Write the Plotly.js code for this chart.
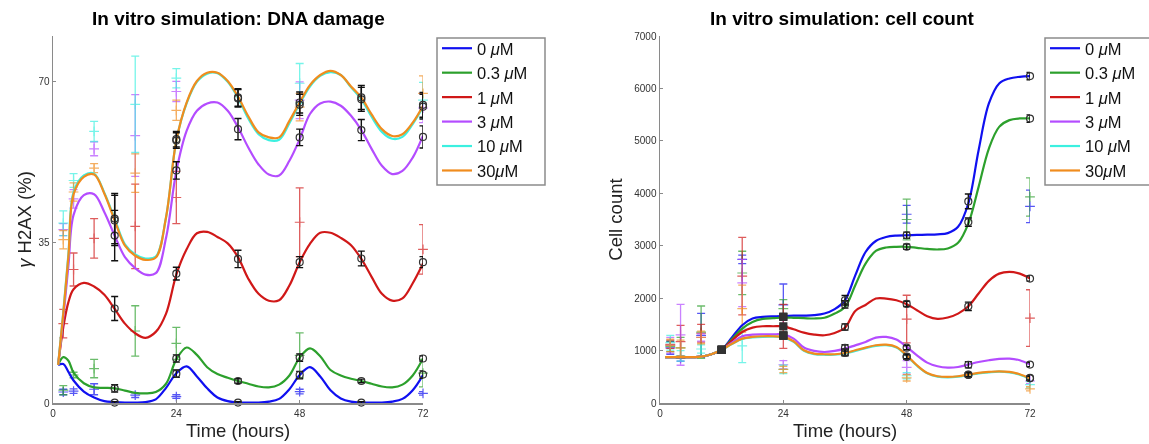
<!DOCTYPE html>
<html>
<head>
<meta charset="utf-8">
<script src="https://cdn.plot.ly/plotly-3.0.1.min.js"></script>
<style>
html,body{margin:0;padding:0;background:#fff;}
#chart{width:1149px;height:444px;}
</style>
</head>
<body>
<div id="chart"></div>
<script>
// ---------- series names ----------
const seriesNames = ['0 <i>μ</i>M', '0.3 <i>μ</i>M', '1 <i>μ</i>M', '3 <i>μ</i>M', '10 <i>μ</i>M', '30<i>μ</i>M'];
const seriesColors = ['#1010f0', '#2ca02c', '#d01818', '#b44cff', '#3cf0e0', '#f08c1e'];

// ---------- left: DNA damage model curves ----------
const tModelL = [1,2,3,4,6,8,10,12,14,16,18,20,22,24,26,28,30,32,34,36,38,40,42,44,46,48,50,52,54,56,58,60,62,64,66,68,70,72];
const dna0  = [8.3,8.5,6.8,4.9,2.5,1.2,0.4,0.2,0.1,0.1,0.2,0.8,3.3,6.5,8.0,5.8,3.2,1.2,0.4,0.1,0.1,0.1,0.3,0.9,3.0,6.1,7.8,5.8,2.8,1.0,0.3,0.1,0.1,0.1,0.3,0.9,2.8,6.1];
const dna03 = [8.3,10.0,9.2,6.6,4.3,3.4,3.3,3.2,2.7,2.2,2.1,2.4,4.2,9.5,12.1,10.5,7.8,6.3,5.5,4.8,4.2,3.6,3.4,4.0,6.0,9.9,11.9,10.2,7.2,6.0,5.3,4.8,4.2,3.6,3.4,4.0,6.0,9.7];
const dna1  = [8.3,16.5,22.0,24.8,26.2,25.4,23.6,20.5,17.3,15.2,14.2,15.5,19.5,28.0,33.5,37.0,37.3,36.2,34.8,31.8,27.1,23.8,22.3,22.4,25.6,30.7,34.7,37.1,37.1,36.0,34.4,31.4,27.5,23.8,22.3,22.8,26.1,30.4];
const dna3  = [8.3,18.5,30.0,41.0,45.3,45.5,41.6,36.5,31.8,29.4,28.0,28.3,36.0,50.5,59.3,63.7,65.3,65.5,63.7,60.1,55.7,52.0,49.8,49.6,52.8,57.5,63.0,65.3,65.7,64.8,62.6,59.5,55.4,51.7,49.9,50.6,53.5,58.3];
const dna10 = [8.3,19.8,32.5,46.0,49.6,50.0,45.8,40.2,34.6,32.4,31.5,31.9,40.5,57.2,65.3,70.0,71.8,71.9,70.0,66.5,62.0,58.6,57.3,57.4,61.0,65.2,69.0,71.3,72.1,71.5,68.8,66.2,62.4,59.1,57.6,58.0,60.8,64.5];
const dna30 = [8.3,19.5,32.0,45.5,49.3,49.8,45.6,39.8,34.3,32.1,31.2,31.7,40.5,57.2,65.5,70.2,72.0,72.0,70.2,66.8,62.5,59.0,57.9,57.9,61.5,65.5,69.3,71.5,72.4,71.5,69.0,66.6,62.9,59.7,58.2,58.6,61.1,64.8];

// ---------- left: coloured experimental data ----------
const tExpL = [2,4,8,16,24,48,72];
const dnaExp0  = [2.4,2.6,3.0,1.7,1.4,2.5,2.1];
const dnaErr0  = [0.6,0.5,1.2,0.5,0.4,0.5,0.4];
const dnaExp03 = [2.8,6.1,7.5,15.7,13.0,10.4,6.5];
const dnaErr03 = [1.0,0.6,2.0,5.5,3.5,4.9,3.0];
const dnaExp1  = [17.3,29.1,35.9,38.5,44.8,39.4,33.5];
const dnaErr1  = [3.1,3.6,4.3,9.2,5.7,7.5,5.4];
const dnaExp3  = [37.8,44.5,55.4,58.3,67.9,66.0,64.3];
const dnaErr3  = [1.3,2.0,1.5,8.9,2.2,4.0,3.2];
const dnaExp10 = [39.2,48.5,59.2,65.1,70.8,69.7,66.0];
const dnaErr10 = [2.7,1.5,2.2,10.5,2.1,4.3,3.9];
const dnaExp30 = [35.6,46.0,51.2,50.1,63.8,64.5,67.5];
const dnaErr30 = [2.0,2.0,1.0,4.2,2.2,3.0,3.8];

// ---------- left: black reference data ----------
const tRefL = [12,24,36,48,60,72];
const dnaRef0  = [0.1,6.4,0.1,6.1,0.1,6.2];
const dnaRefE0 = [0.2,0.8,0.2,0.8,0.2,0.8];
const dnaRef03 = [3.2,9.7,4.8,9.9,4.8,9.7];
const dnaRefE03= [0.8,0.8,0.5,0.8,0.4,0.6];
const dnaRef1  = [20.6,28.2,31.4,30.7,31.5,30.7];
const dnaRefE1 = [2.6,1.4,1.9,1.2,1.6,1.2];
const dnaRef3  = [36.5,50.7,59.7,57.9,59.5,58.0];
const dnaRefE3 = [5.5,1.9,2.3,1.8,2.3,2.4];
const dnaRef10 = [40.2,57.5,66.4,65.0,66.2,64.6];
const dnaRefE10= [5.5,1.7,1.9,2.3,2.6,2.7];
const dnaRef30 = [39.8,57.2,66.6,65.5,66.6,65.0];
const dnaRefE30= [5.5,1.7,1.9,2.3,2.6,2.7];

// ---------- right: cell count model curves ----------
const tModelR = [1,4,8,10,12,14,16,18,20,22,24,26,28,30,32,34,36,38,40,42,44,46,48,50,52,54,56,58,60,62,64,66,68,70,72];
const cell0  = [875,875,885,930,1015,1250,1483,1610,1642,1655,1661,1665,1667,1675,1706,1790,1960,2435,2880,3090,3167,3193,3200,3205,3210,3218,3240,3360,3805,4822,5713,6095,6190,6222,6235];
const cell03 = [875,875,885,930,1015,1220,1420,1547,1604,1617,1629,1625,1618,1612,1625,1706,1830,2247,2660,2900,2966,2979,2979,2960,2940,2928,2947,3055,3423,4122,4854,5267,5395,5427,5427];
const cell1  = [875,875,885,930,1015,1190,1355,1438,1464,1464,1462,1406,1343,1305,1292,1336,1435,1756,1870,1992,1992,1960,1884,1770,1655,1604,1630,1705,1845,2088,2330,2468,2500,2468,2374];
const cell3  = [875,875,885,930,1015,1150,1273,1304,1311,1311,1305,1229,1057,993,973,993,1037,1100,1164,1247,1260,1209,1069,910,770,700,675,687,733,782,815,840,846,815,733];
const cell10 = [875,875,885,930,1015,1125,1220,1250,1263,1265,1252,1165,995,932,920,920,944,995,1045,1090,1102,1058,900,712,565,503,490,503,535,566,585,598,585,540,458];
const cell30 = [875,875,885,930,1015,1130,1228,1260,1273,1273,1260,1177,1005,942,930,930,954,1005,1057,1101,1113,1069,910,720,573,510,497,510,542,573,592,605,592,548,465];

// ---------- right: coloured experimental data ----------
const tExpR = [2,4,8,16,24,48,72];
const cellExp0  = [1050,850,1290,2740,1870,3600,3750];
const cellErr0  = [120,50,420,80,400,170,310];
const cellExp03 = [1080,1050,1350,2480,1800,3500,3930];
const cellErr03 = [100,200,500,414,170,390,365];
const cellExp1  = [1120,1170,1330,2420,1460,1600,1620];
const cellErr1  = [80,310,170,740,420,455,540];
const cellExp3  = [1100,1300,1250,2290,730,680,420];
const cellErr3  = [150,580,70,450,80,130,50];
const cellExp10 = [1150,900,1030,1090,640,520,350];
const cellErr10 = [140,100,80,320,80,60,60];
const cellExp30 = [1100,1050,1250,1800,640,480,270];
const cellErr30 = [120,150,120,450,60,60,40];

// ---------- right: black reference data ----------
const tRefR = [12,24,36,48,60,72];
const cellRef0  = [1015,1650,1960,3200,3845,6235];
const cellRefE0 = [30,40,90,60,140,70];
const cellRef03 = [1015,1640,1880,2980,3450,5425];
const cellRefE03= [30,40,70,50,80,70];
const cellRef1  = [1015,1460,1450,1890,1845,2374];
const cellRefE1 = [30,40,60,50,80,50];
const cellRef3  = [1015,1290,1050,1055,730,733];
const cellRefE3 = [30,40,60,40,60,40];
const cellRef10 = [1015,1285,960,880,535,470];
const cellRefE10= [30,40,60,40,40,40];
const cellRef30 = [1015,1285,965,884,540,478];
const cellRefE30= [30,40,60,40,40,40];

// ---------- tick labels ----------
const xTicks = [0,24,48,72];
const yTicksL = [0,35,70];
const yTicksR = [0,1000,2000,3000,4000,5000,6000,7000];

// ---------- build traces ----------
const modelL = [dna0,dna03,dna1,dna3,dna10,dna30];
const expL = [dnaExp0,dnaExp03,dnaExp1,dnaExp3,dnaExp10,dnaExp30];
const expLE = [dnaErr0,dnaErr03,dnaErr1,dnaErr3,dnaErr10,dnaErr30];
const refL = [dnaRef0,dnaRef03,dnaRef1,dnaRef3,dnaRef10,dnaRef30];
const refLE = [dnaRefE0,dnaRefE03,dnaRefE1,dnaRefE3,dnaRefE10,dnaRefE30];
const modelR = [cell0,cell03,cell1,cell3,cell10,cell30];
const expR = [cellExp0,cellExp03,cellExp1,cellExp3,cellExp10,cellExp30];
const expRE = [cellErr0,cellErr03,cellErr1,cellErr3,cellErr10,cellErr30];
const refR = [cellRef0,cellRef03,cellRef1,cellRef3,cellRef10,cellRef30];
const refRE = [cellRefE0,cellRefE03,cellRefE1,cellRefE3,cellRefE10,cellRefE30];

function expTrace(t, y, e, color, xa, ya) {
  return {
    x: t, y: y, type: 'scatter', mode: 'markers', xaxis: xa, yaxis: ya,
    showlegend: false, hoverinfo: 'skip', cliponaxis: false, opacity: 0.7,
    marker: {symbol: 'cross-thin-open', size: 7, color: color, line: {color: color, width: 1.2}},
    error_y: {type: 'data', array: e, visible: true, color: color, thickness: 1.3, width: 4}
  };
}
function refTrace(t, y, e, xa, ya, symbols) {
  return {
    x: t, y: y, type: 'scatter', mode: 'markers', xaxis: xa, yaxis: ya,
    showlegend: false, hoverinfo: 'skip', cliponaxis: false,
    marker: {symbol: symbols, size: 7, color: '#333', line: {color: '#333', width: 1.2}},
    error_y: {type: 'data', array: e, visible: true, color: '#111', thickness: 1.4, width: 3.5}
  };
}
function modelTrace(t, y, i, xa, ya, legendId) {
  return {
    x: t, y: y, type: 'scatter', mode: 'lines', xaxis: xa, yaxis: ya,
    name: seriesNames[i], legend: legendId, hoverinfo: 'skip', cliponaxis: false,
    line: {color: seriesColors[i], width: 2.2, shape: 'spline', smoothing: 1}
  };
}

const traces = [];
for (let i = 0; i < 6; i++) traces.push(expTrace(tExpL, expL[i], expLE[i], seriesColors[i], 'x', 'y'));
for (let i = 0; i < 6; i++) traces.push(expTrace(tExpR, expR[i], expRE[i], seriesColors[i], 'x2', 'y2'));
for (let i = 0; i < 6; i++) traces.push(modelTrace(tModelL, modelL[i], i, 'x', 'y', 'legend'));
for (let i = 0; i < 6; i++) traces.push(modelTrace(tModelR, modelR[i], i, 'x2', 'y2', 'legend2'));
const symL = tRefL.map(() => 'circle-open');
const symR = tRefR.map(t => t <= 24 ? 'square' : 'circle-open');
for (let i = 0; i < 6; i++) traces.push(refTrace(tRefL, refL[i], refLE[i], 'x', 'y', symL));
for (let i = 0; i < 6; i++) traces.push(refTrace(tRefR, refR[i], refRE[i], 'x2', 'y2', symR));

const FONT = 'Liberation Sans, Arial, Helvetica, sans-serif';
const W = 1149, H = 444;
const TITLEFONT = {family: FONT, size: 18.5, color: '#222'};
const axisCommon = {
  showline: true, linecolor: '#8a8a8a', linewidth: 1.5, mirror: false,
  ticks: 'inside', ticklen: 3, tickcolor: '#8a8a8a', tickwidth: 1,
  showgrid: false, zeroline: false, fixedrange: true,
  tickfont: {family: FONT, size: 10, color: '#333'}
};
const legendCommon = {
  xanchor: 'left', yanchor: 'top', xref: 'paper', yref: 'paper',
  bgcolor: 'rgba(0,0,0,0)', borderwidth: 0,
  font: {family: FONT, size: 16.5, color: '#111'}, tracegroupgap: 0
};
function legendBox(x0, x1) {
  return {type: 'rect', xref: 'paper', yref: 'paper', x0: x0/W, x1: x1/W, y0: (H-185)/H, y1: (H-38)/H,
          line: {color: '#8c8c8c', width: 1.5}, fillcolor: '#ffffff', layer: 'below'};
}

const layout = {
  width: W, height: H,
  margin: {l: 0, r: 0, t: 0, b: 0, autoexpand: false},
  paper_bgcolor: '#fff', plot_bgcolor: 'rgba(0,0,0,0)',
  xaxis: Object.assign({}, axisCommon, {
    domain: [53/W, 423/W], range: [0, 72], tickvals: xTicks, ticktext: xTicks.map(String), anchor: 'y',
    title: {text: 'Time (hours)', standoff: 6, font: TITLEFONT}
  }),
  yaxis: Object.assign({}, axisCommon, {
    domain: [(H-403)/H, (H-36)/H], range: [0, 80], tickvals: yTicksL, ticktext: yTicksL.map(String), anchor: 'x',
    title: {text: '<i>γ</i> H2AX (%)', standoff: 2, font: TITLEFONT}
  }),
  xaxis2: Object.assign({}, axisCommon, {
    domain: [660/W, 1030/W], range: [0, 72], tickvals: xTicks, ticktext: xTicks.map(String), anchor: 'y2',
    title: {text: 'Time (hours)', standoff: 6, font: TITLEFONT}
  }),
  yaxis2: Object.assign({}, axisCommon, {
    domain: [(H-403)/H, (H-36)/H], range: [0, 7000], tickvals: yTicksR, ticktext: yTicksR.map(String), anchor: 'x2',
    title: {text: 'Cell count', standoff: 7, font: TITLEFONT}
  }),
  legend: Object.assign({}, legendCommon, {x: 437/W, y: (H-31)/H}),
  legend2: Object.assign({}, legendCommon, {x: 1045/W, y: (H-31)/H}),
  shapes: [legendBox(437, 545), legendBox(1045, 1170)],
  annotations: [
    {text: 'In vitro simulation: DNA damage', xref: 'paper', yref: 'paper', x: 238/W, y: (H-18)/H,
     xanchor: 'center', yanchor: 'middle', showarrow: false,
     font: {family: FONT, size: 19, color: '#000', weight: 'bold'}},
    {text: 'In vitro simulation: cell count', xref: 'paper', yref: 'paper', x: 842/W, y: (H-18)/H,
     xanchor: 'center', yanchor: 'middle', showarrow: false,
     font: {family: FONT, size: 19, color: '#000', weight: 'bold'}}
  ],
  showlegend: true
};

Plotly.newPlot('chart', traces, layout, {staticPlot: true, displayModeBar: false});
</script>
</body>
</html>
